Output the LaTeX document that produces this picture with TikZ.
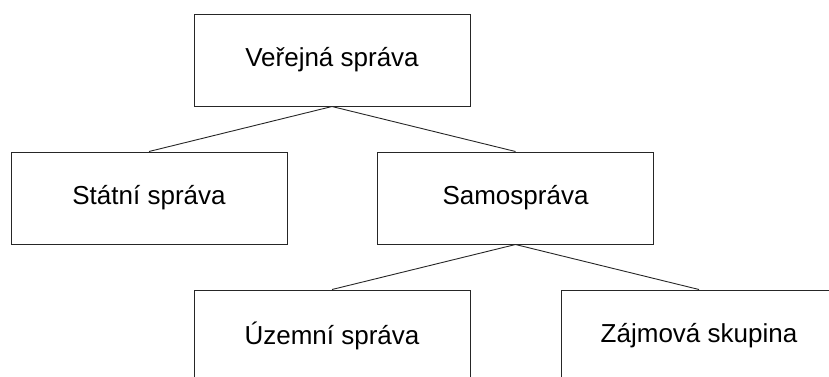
\documentclass[tikz,border=0pt]{standalone}
\usepackage{fontspec}
\setmainfont{Liberation Sans}
\begin{document}
\begin{tikzpicture}[x=1pt,y=-1pt,
  box/.style={draw=black!85, line width=1pt, minimum width=276pt, minimum height=92pt,
    inner sep=0pt, font=\fontsize{26}{30}\selectfont, fill=white},
  link/.style={draw=black!85, line width=0.9pt}]
\useasboundingbox (0,0) rectangle (829,376);
\clip (0,0) rectangle (829,376);
\node[box] (ver) at (332,60) {Veřejná správa};
\node[box] (sta) at (149,198) {Státní správa};
\node[box] (sam) at (515.5,198) {Samospráva};
\node[box] (uze) at (332,336) {Územní správa};
\node[box] (zaj) at (699,336) {Zájmová skupina};
\draw[link] (ver.south) -- (sta.north);
\draw[link] (ver.south) -- (sam.north);
\draw[link] (sam.south) -- (uze.north);
\draw[link] (sam.south) -- (zaj.north);
\end{tikzpicture}
\end{document}
